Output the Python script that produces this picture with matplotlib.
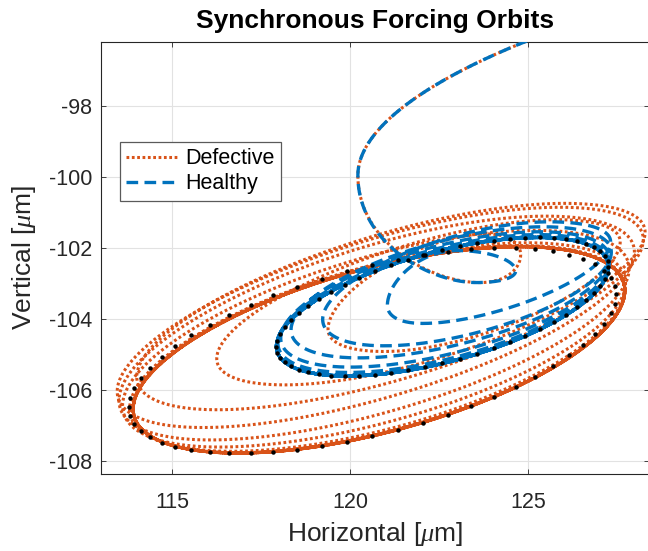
import numpy as np
import matplotlib
matplotlib.use("Agg")
import matplotlib.pyplot as plt

# ---------------- data (micrometres) ----------------
# Orbit turning points: x extremes alternate right/left every half turn,
# y extremes alternate top/bottom; y_lag = angle (deg) after the matching x extreme.
defective_x_ext = [129.28, 120.22, 124.80, 119.38, 127.60, 116.25, 128.30, 114.00,
                   128.25, 113.45, 128.00, 113.50, 127.85, 113.60, 127.75, 113.80,
                   127.73, 113.88, 127.73, 113.90, 127.73, 113.90, 127.73, 113.90,
                   127.73, 113.90, 127.73, 113.90, 127.73, 113.90, 127.73]
defective_y_ext = [-94.97, -102.97, -101.60, -104.91, -101.20, -105.85, -100.74, -106.55,
                   -100.85, -107.05, -101.10, -107.40, -101.50, -107.60, -101.85, -107.72,
                   -101.93, -107.76, -101.96, -107.77, -101.96, -107.77, -101.96, -107.77,
                   -101.96, -107.77, -101.96, -107.77, -101.96, -107.77, -101.96]
defective_y_lag = [15, 120, 50, 52, 47, 47, 47, 47, 47, 48, 49, 50, 51, 52, 53, 54,
                   55, 55, 55, 55, 55, 55, 55, 55, 55, 55, 55, 55, 55, 55, 55]

healthy_x_ext = [129.28, 120.22, 124.66, 121.05, 127.33, 119.23, 127.35, 118.34,
                 127.30, 118.05, 127.28, 117.97, 127.27, 117.93, 127.27, 117.93,
                 127.27, 117.93, 127.27, 117.93, 127.27, 117.93, 127.27, 117.93,
                 127.27]
healthy_y_ext = [-94.97, -102.97, -102.07, -104.12, -101.26, -104.75, -101.40, -105.09,
                 -101.54, -105.35, -101.62, -105.50, -101.68, -105.58, -101.70, -105.60,
                 -101.70, -105.60, -101.70, -105.60, -101.70, -105.60, -101.70, -105.60,
                 -101.70]
healthy_y_lag = [15, 120, 85, 47, 55, 55, 55, 55, 55, 55, 55, 55, 55, 55, 55, 55,
                 55, 55, 55, 55, 55, 55, 55, 55, 55]

# steady-state reference orbits drawn as black dots: right, left, top, bottom, lag
ref_outer = [127.48, 113.78, -102.00, -107.78, 56.6]
ref_inner = [127.27, 117.93, -101.70, -105.60, 54.6]
n_ref_dots = 60

start_angle = 75.0  # deg, first plotted point (outside the top of the axes)

x_ticks = [115, 120, 125]
y_ticks = [-108, -106, -104, -102, -100, -98]
x_limits = (112.98, 128.41)
y_limits = (-108.35, -96.19)

ORANGE = "#D95319"
BLUE = "#0072BD"


def half_cos(theta, knots, vals):
    knots = np.asarray(knots, float)
    vals = np.asarray(vals, float)
    idx = np.clip(np.searchsorted(knots, theta) - 1, 0, len(knots) - 2)
    t0, t1 = knots[idx], knots[idx + 1]
    u = np.clip((theta - t0) / (t1 - t0), 0.0, 1.0)
    g = 0.5 * (1.0 + np.cos(np.pi * u))
    return vals[idx + 1] + (vals[idx] - vals[idx + 1]) * g


def orbit(x_ext, y_ext, y_lag, start):
    n = len(x_ext)
    xk = 180.0 * np.arange(n)
    yk = 180.0 * np.arange(len(y_ext)) + np.asarray(y_lag, float)
    theta = np.linspace(start, xk[-1], int((xk[-1] - start) * 4) + 1)
    return half_cos(theta, xk, x_ext), half_cos(theta, yk, y_ext)


def ref_orbit(p, n):
    r, l, t, b, lag = p
    xk = 180.0 * np.arange(5)
    yk = 180.0 * np.arange(-1, 5) + lag
    theta = np.arange(n) * 360.0 / n
    x = half_cos(theta, xk, [r, l, r, l, r])
    y = half_cos(theta, yk, [b, t, b, t, b, t])
    return x, y


plt.rcParams["font.family"] = ["Liberation Sans", "DejaVu Sans"]
plt.rcParams["mathtext.fontset"] = "custom"
plt.rcParams["mathtext.it"] = "Liberation Serif:italic"
plt.rcParams["mathtext.rm"] = "Liberation Sans"
plt.rcParams["axes.unicode_minus"] = False

W, H = 648, 551
fig = plt.figure(figsize=(W / 100, H / 100), dpi=100)
left_px, right_px, top_px, bottom_px = 100.5, 649.0, 41.7, 473.7
ax = fig.add_axes([left_px / W, 1 - bottom_px / H,
                   (right_px - left_px) / W, (bottom_px - top_px) / H])

dx, dy = orbit(defective_x_ext, defective_y_ext, defective_y_lag, start_angle)
hx, hy = orbit(healthy_x_ext, healthy_y_ext, healthy_y_lag, start_angle)

ax.plot(dx, dy, color=ORANGE, lw=2.2, dashes=(0.9, 0.85), dash_capstyle="butt",
        label="Defective", zorder=3)
ax.plot(hx, hy, color=BLUE, lw=2.4, dashes=(3.5, 1.9), dash_capstyle="butt",
        label="Healthy", zorder=4)

for p in (ref_outer, ref_inner):
    rx, ry = ref_orbit(p, n_ref_dots)
    ax.plot(rx, ry, linestyle="none", marker="o", ms=3.2, mfc="black", mec="none",
            zorder=5)

ax.set_xlim(*x_limits)
ax.set_ylim(*y_limits)
ax.set_xticks(x_ticks)
ax.set_yticks(y_ticks)
ax.grid(True, color="#e2e2e2", lw=0.8)
ax.set_axisbelow(True)
ax.tick_params(direction="in", top=True, right=True, length=3.3, width=0.6,
               colors="#262626", labelsize=15.5)
ax.tick_params(axis="x", pad=13)
ax.tick_params(axis="y", pad=6)
for s in ax.spines.values():
    s.set_color("#262626")
    s.set_linewidth(0.8)

ax.set_title("Synchronous Forcing Orbits", fontsize=19, fontweight="bold",
             color="black", pad=10)
ax.set_xlabel(r"Horizontal [$\mu$m]", fontsize=19, color="#262626", labelpad=5)
ax.set_ylabel(r"Vertical [$\mu$m]", fontsize=19, color="#262626", labelpad=8)

leg = ax.legend(loc="upper left", bbox_to_anchor=(0.0349, 0.7685), borderaxespad=0,
                fontsize=15.5, handlelength=2.4, handletextpad=0.35,
                borderpad=0.3, labelspacing=0.2, fancybox=False, framealpha=1)
leg.get_frame().set_edgecolor("#5a5a5a")
leg.get_frame().set_linewidth(0.9)

fig.savefig("out.png", dpi=100)
